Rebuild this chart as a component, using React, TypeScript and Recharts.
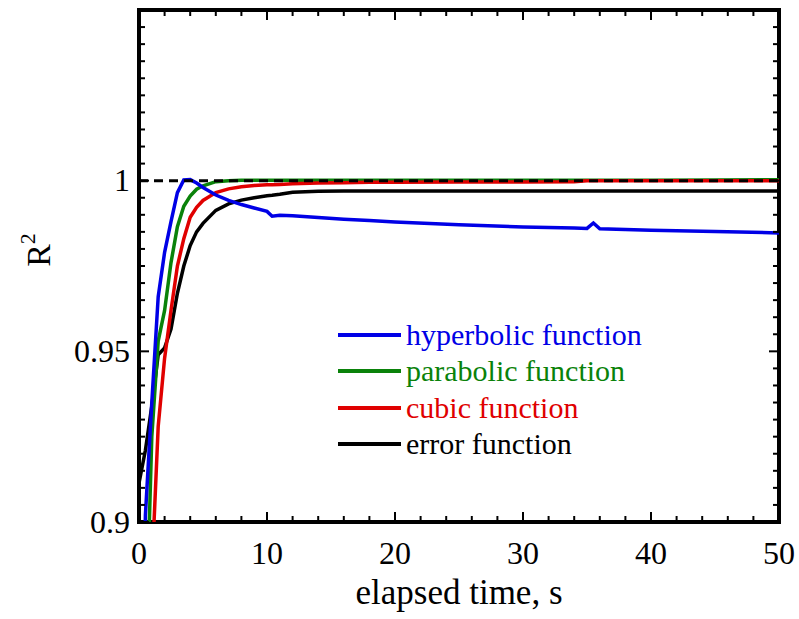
import { LineChart, Line, XAxis, YAxis, ReferenceLine, ReferenceArea, Legend } from 'recharts'

const SERIF = '"Liberation Serif", "Times New Roman", serif'

// elapsed time, s
const time = [0, 0.5, 1, 1.5, 2, 2.5, 3, 3.5, 4, 4.5, 5, 6, 7, 8, 9, 10, 10.4, 11, 12, 14, 16, 18, 20, 25, 30, 34, 35, 35.5, 36, 40, 45, 50]

// R^2 of each fitted function (values below 0.9 run off the bottom of the plot)
const hyperbolic = [0.78, 0.902, 0.935, 0.966, 0.979, 0.988, 0.9965, 1.0002, 1.0003, 0.9993, 0.998, 0.9958, 0.9942, 0.993, 0.992, 0.991, 0.9896, 0.9899, 0.9897, 0.9892, 0.9887, 0.9883, 0.9879, 0.9871, 0.9864, 0.9861, 0.986, 0.9876, 0.9859, 0.9855, 0.9851, 0.9847]
const parabolic = [0.78, 0.86, 0.925, 0.953, 0.962, 0.976, 0.9865, 0.9925, 0.9955, 0.9975, 0.9985, 0.9997, 1.0, 1.0001, 1.0001, 1.0001, 1.0001, 1.0001, 1.0001, 1.0001, 1.0001, 1.0001, 1.0001, 1.0001, 1.0001, 1.0001, 1.0001, 1.0001, 1.0001, 1.0001, 1.0002, 1.0003]
const cubic = [0.7, 0.78, 0.885, 0.928, 0.948, 0.962, 0.975, 0.983, 0.9893, 0.9922, 0.9942, 0.9965, 0.9976, 0.9982, 0.9986, 0.9988, 0.9988, 0.9989, 0.9991, 0.9993, 0.9994, 0.9995, 0.9995, 0.9996, 0.9996, 0.9997, 1.0, 1.0, 1.0, 1.0, 1.0, 1.0]
const errorFn = [0.9114, 0.921, 0.934, 0.949, 0.951, 0.9565, 0.967, 0.975, 0.981, 0.985, 0.9875, 0.9913, 0.9932, 0.9943, 0.995, 0.9956, 0.9957, 0.996, 0.9966, 0.9969, 0.997, 0.997, 0.997, 0.997, 0.997, 0.997, 0.997, 0.997, 0.997, 0.997, 0.997, 0.997]

const seriesNames = ['hyperbolic function', 'parabolic function', 'cubic function', 'error function']
const seriesColors = ['#0000e6', '#0a820a', '#e00000', '#000000']

const xTicks = Array.from({ length: 26 }, (_, i) => i * 2)
const xLabels = [0, 10, 20, 30, 40, 50]
const yTicks = Array.from({ length: 31 }, (_, i) => Number((0.9 + i * 0.005).toFixed(3)))
const yLabels = [0.9, 0.95, 1]

const data = time.map((t, i) => ({
	t,
	hyperbolic: hyperbolic[i],
	parabolic: parabolic[i],
	cubic: cubic[i],
	errorFn: errorFn[i],
}))

const isX = (v: number) => xLabels.includes(v)
const isY = (v: number) => yLabels.some((l) => Math.abs(l - v) < 1e-6)

const BottomTick = ({ x, y, payload }: any) => {
	const major = isX(payload.value)
	return (
		<g>
			<line x1={x} x2={x} y1={y} y2={y - (major ? 10 : 6)} stroke='#000' strokeWidth={2} />
			{major && (
				<text x={x} y={y + 42} textAnchor='middle' fontSize={32} fontFamily={SERIF} fill='#000'>
					{payload.value}
				</text>
			)}
		</g>
	)
}

const TopTick = ({ x, y, payload }: any) => {
	const major = isX(payload.value)
	return <line x1={x} x2={x} y1={y} y2={y + (major ? 10 : 6)} stroke='#000' strokeWidth={2} />
}

const LeftTick = ({ x, y, payload }: any) => {
	const v = payload.value
	const major = isY(v)
	const label = yLabels.find((l) => Math.abs(l - v) < 1e-6)
	return (
		<g>
			<line x1={x} x2={x + (major ? 10 : 6)} y1={y} y2={y} stroke='#000' strokeWidth={2} />
			{major && (
				<text x={x - 9} y={y} dy='0.33em' textAnchor='end' fontSize={32} fontFamily={SERIF} fill='#000'>
					{String(label)}
				</text>
			)}
		</g>
	)
}

const RightTick = ({ x, y, payload }: any) => {
	const major = isY(payload.value)
	return <line x1={x} x2={x - (major ? 10 : 6)} y1={y} y2={y} stroke='#000' strokeWidth={2} />
}

const renderLegend = () => (
	<div style={{ fontFamily: SERIF, fontSize: 30 }}>
		{seriesNames.map((name, i) => (
			<div key={name} style={{ display: 'flex', alignItems: 'center', height: 36.3, whiteSpace: 'nowrap' }}>
				<svg width={68} height={36}>
					<line x1={0} x2={63} y1={18} y2={18} stroke={seriesColors[i]} strokeWidth={4} />
				</svg>
				<span style={{ color: seriesColors[i] }}>{name}</span>
			</div>
		))}
	</div>
)

export default function App() {
	return (
		<div style={{ position: 'absolute', left: 0, top: 0, background: '#fff' }}>
			<LineChart width={799} height={619} data={data} margin={{ top: 9, right: 19, bottom: 0, left: 0 }}>
				<XAxis
					dataKey='t'
					type='number'
					domain={[0, 50]}
					ticks={xTicks}
					interval={0}
					height={97}
					tickSize={0}
					tickMargin={0}
					tickLine={false}
					axisLine={false}
					tick={BottomTick}
					label={{
						content: ({ viewBox }: any) => (
							<text
								x={viewBox.x + viewBox.width / 2}
								y={604}
								textAnchor='middle'
								fontSize={35}
								fontFamily={SERIF}
								fill='#000'
							>
								elapsed time, s
							</text>
						),
					}}
				/>
				<XAxis
					xAxisId='top'
					dataKey='t'
					type='number'
					orientation='top'
					domain={[0, 50]}
					ticks={xTicks}
					interval={0}
					height={1}
					tickSize={0}
					tickMargin={0}
					tickLine={false}
					axisLine={false}
					tick={TopTick}
				/>
				<YAxis
					type='number'
					domain={[0.9, 1.05]}
					allowDataOverflow
					ticks={yTicks}
					interval={0}
					width={139}
					tickSize={0}
					tickMargin={0}
					tickLine={false}
					axisLine={false}
					tick={LeftTick}
					label={{
						content: () => (
							<text
								transform='translate(50, 250) rotate(-90)'
								textAnchor='middle'
								fontSize={34}
								fontFamily={SERIF}
								fill='#000'
							>
								R
								<tspan dy={-15} fontSize={22}>
									2
								</tspan>
							</text>
						),
					}}
				/>
				<YAxis
					yAxisId='right'
					type='number'
					orientation='right'
					domain={[0.9, 1.05]}
					allowDataOverflow
					ticks={yTicks}
					interval={0}
					width={1}
					tickSize={0}
					tickMargin={0}
					tickLine={false}
					axisLine={false}
					tick={RightTick}
				/>
				<Line dataKey='errorFn' name={seriesNames[3]} stroke={seriesColors[3]} strokeWidth={3.5} dot={false} type='linear' isAnimationActive={false} />
				<Line dataKey='parabolic' name={seriesNames[1]} stroke={seriesColors[1]} strokeWidth={3.5} dot={false} type='linear' isAnimationActive={false} />
				<Line dataKey='cubic' name={seriesNames[2]} stroke={seriesColors[2]} strokeWidth={3.5} dot={false} type='linear' isAnimationActive={false} />
				<Line dataKey='hyperbolic' name={seriesNames[0]} stroke={seriesColors[0]} strokeWidth={3.5} dot={false} type='linear' isAnimationActive={false} />
				<ReferenceLine y={1} stroke='#000' strokeWidth={3} strokeDasharray='9 6' />
				<ReferenceArea x1={0} x2={50} y1={0.9} y2={1.05} fill='none' stroke='#000' strokeWidth={4} ifOverflow='visible' />
				<Legend
					layout='horizontal'
					verticalAlign='middle'
					align='center'
					content={renderLegend}
					wrapperStyle={{ left: 338, top: 317, width: 320 }}
				/>
			</LineChart>
		</div>
	)
}
